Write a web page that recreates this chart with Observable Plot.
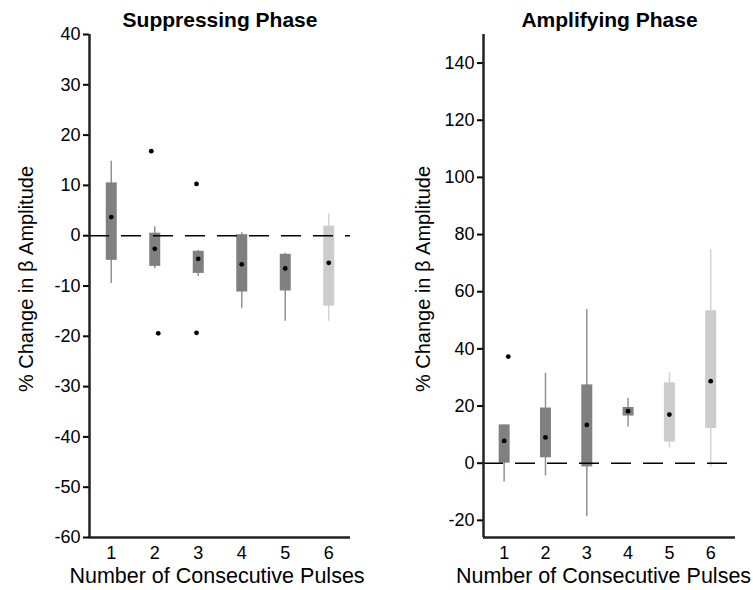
<!DOCTYPE html>
<html>
<head>
<meta charset="utf-8">
<script src="https://cdn.jsdelivr.net/npm/d3@7"></script>
<script src="https://cdn.jsdelivr.net/npm/@observablehq/plot@0.6"></script>
<style>
  body { margin: 0; background: #fff; }
  #chart { position: relative; width: 753px; height: 590px; font-family: "Liberation Sans", Arial, sans-serif; }
  .panel { position: absolute; top: 0; }
</style>
</head>
<body>
<div id="chart"></div>
<script>
// Number of consecutive pulses (x categories)
const pulses = [1, 2, 3, 4, 5, 6];

// Suppressing phase: whisker ends, quartiles, medians (% change in beta amplitude)
const supLow  = [-9.5, -6.5, -8.1, -14.4, -17.0, -17.0];
const supQ1   = [-4.9, -6.1, -7.5, -11.2, -11.0, -14.0];
const supMed  = [3.7, -2.6, -4.6, -5.7, -6.5, -5.4];
const supQ3   = [10.5, 0.5, -3.1, 0.2, -3.7, 1.9];
const supHigh = [14.8, 1.8, -2.9, 0.6, -3.5, 4.3];
const supTone = ["dark", "dark", "dark", "dark", "dark", "light"];
// outliers: pulse position (slightly jittered) and value
const supOutX = [1.92, 2.08, 2.96, 2.96];
const supOutV = [16.8, -19.4, 10.3, -19.3];
const supTicks = [40, 30, 20, 10, 0, -10, -20, -30, -40, -50, -60];

// Amplifying phase
const ampLow  = [-6.6, -4.5, -18.7, 12.7, 5.3, -1.4];
const ampQ1   = [0.0, 1.9, -1.3, 16.5, 7.4, 12.1];
const ampMed  = [7.8, 9.0, 13.4, 18.2, 17.0, 28.7];
const ampQ3   = [13.4, 19.3, 27.4, 19.5, 28.1, 53.3];
const ampHigh = [13.4, 31.5, 53.8, 22.7, 31.7, 74.8];
const ampTone = ["dark", "dark", "dark", "dark", "light", "light"];
const ampOutX = [1.1];
const ampOutV = [37.3];
const ampTicks = [140, 120, 100, 80, 60, 40, 20, 0, -20];

const yLabel = "% Change in β Amplitude";
const xLabel = "Number of Consecutive Pulses";

function panel({title, xDomain, yDomain, ticks, low, q1, med, q3, high, tone, outX, outV,
                width, marginLeft, marginRight, labelDx, xLabelDx}) {
  const rows = pulses.map((n, i) => ({n, low: low[i], q1: q1[i], med: med[i], q3: q3[i], high: high[i], tone: tone[i]}));
  const outliers = outX.map((n, i) => ({n, v: outV[i]}));
  return Plot.plot({
    width,
    height: 590,
    marginTop: 34,
    marginBottom: 53,
    marginLeft,
    marginRight,
    style: {fontFamily: "Liberation Sans, Arial, sans-serif", fontSize: "18px", color: "#000", background: "#fff", overflow: "visible"},
    x: {domain: xDomain, axis: null},
    y: {domain: yDomain, axis: null},
    color: {domain: ["dark", "light"], range: ["#808080", "#cccccc"]},
    marks: [
      // whiskers
      Plot.ruleX(rows, {x: "n", y1: "low", y2: "high", stroke: "tone", strokeWidth: 1.5, strokeOpacity: 0.85}),
      // interquartile boxes
      Plot.ruleX(rows, {x: "n", y1: "q1", y2: "q3", stroke: "tone", strokeWidth: 11, strokeLinecap: "butt"}),
      // medians
      Plot.dot(rows, {x: "n", y: "med", r: 2.4, fill: "#000", stroke: null}),
      // outliers
      Plot.dot(outliers, {x: "n", y: "v", r: 2.4, fill: "#000", stroke: null}),
      // zero reference
      Plot.ruleY([0], {stroke: "#000", strokeWidth: 1.6, strokeDasharray: "20,12"}),
      // axes
      Plot.axisY({ticks, tickSize: 6, tickPadding: 3, tickFormat: d => String(d), strokeWidth: 2, fontSize: 18, label: null}),
      Plot.axisX({ticks: pulses, tickSize: 0, tickPadding: 9, tickFormat: d => String(d), fontSize: 18, label: null}),
      Plot.ruleX([xDomain[0]], {stroke: "#222", strokeWidth: 2.5}),
      Plot.ruleY([yDomain[0]], {stroke: "#222", strokeWidth: 2.5}),
      // titles
      Plot.text([title], {frameAnchor: "top", textAnchor: "middle", lineAnchor: "middle", dy: -14,
                          fontWeight: "bold", fontSize: 21, fill: "#000"}),
      Plot.text([yLabel], {frameAnchor: "left", textAnchor: "middle", lineAnchor: "middle", dx: labelDx, dy: -7,
                           rotate: -90, fontSize: 20, fill: "#000"}),
      Plot.text([xLabel], {frameAnchor: "bottom", textAnchor: "middle", lineAnchor: "middle", dx: xLabelDx, dy: 39,
                           fontSize: 21.5, fill: "#000"})
    ]
  });
}

const left = panel({
  title: "Suppressing Phase", xDomain: [0.5, 6.5], yDomain: [-60, 40], ticks: supTicks,
  low: supLow, q1: supQ1, med: supMed, q3: supQ3, high: supHigh, tone: supTone,
  outX: supOutX, outV: supOutV, width: 380, marginLeft: 89, marginRight: 30, labelDx: -63, xLabelDx: -3
});
const right = panel({
  title: "Amplifying Phase", xDomain: [0.5, 6.6], yDomain: [-26, 150], ticks: ampTicks,
  low: ampLow, q1: ampQ1, med: ampMed, q3: ampQ3, high: ampHigh, tone: ampTone,
  outX: ampOutX, outV: ampOutV, width: 373, marginLeft: 103, marginRight: 18, labelDx: -60, xLabelDx: -6
});

const chart = document.getElementById("chart");
left.classList.add("panel");
left.style.left = "0px";
right.classList.add("panel");
right.style.left = "380px";
chart.appendChild(left);
chart.appendChild(right);
</script>
</body>
</html>
